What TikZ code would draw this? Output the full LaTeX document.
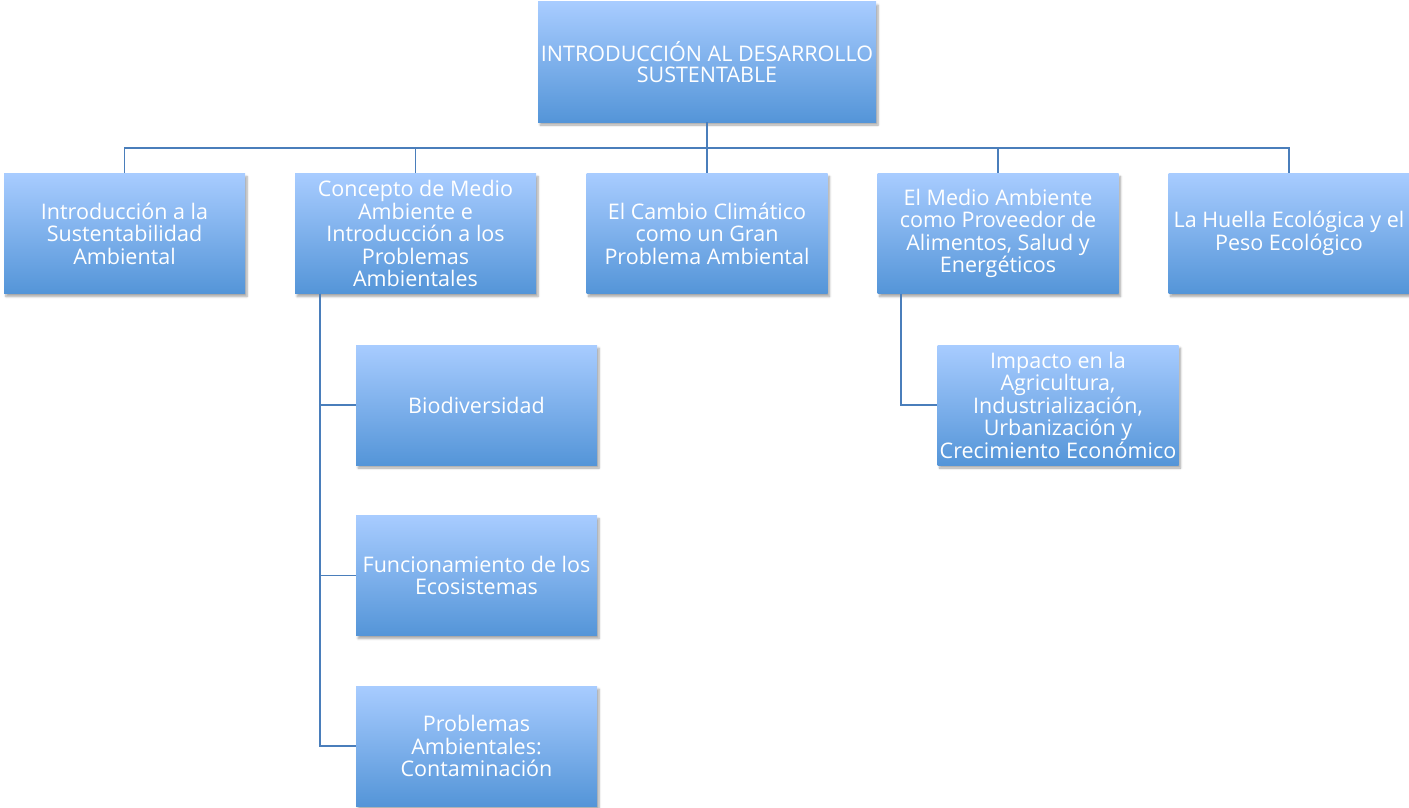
\documentclass[tikz,border=0pt]{standalone}
\usepackage{fontspec}
\setmainfont{Open Sans}
\usetikzlibrary{shadows.blur,calc}
\definecolor{topc}{RGB}{168,204,255}
\definecolor{botc}{RGB}{84,149,216}
\definecolor{linec}{RGB}{74,126,187}
\tikzset{
  box/.style={rectangle, minimum width=241pt, minimum height=120pt, inner sep=0pt,
    align=center, text=white, font=\fontsize{21.5}{22.5}\selectfont,
    top color=topc, bottom color=botc,
    blur shadow={shadow xshift=2pt, shadow yshift=-3pt, shadow blur steps=6, shadow opacity=35}},
  conn/.style={draw=linec, line width=1.8pt}
}
\begin{document}
\begin{tikzpicture}[x=1pt,y=-1pt]
\useasboundingbox (0,0) rectangle (1409,808);
\node[box, minimum width=338pt, font=\fontsize{21.5}{21}\selectfont] (top) at (707,62) {INTRODUCCIÓN AL DESARROLLO\\SUSTENTABLE};
\node[box] (b1) at (124.5,233.5) {Introducción a la\\Sustentabilidad\\Ambiental};
\node[box] (b2) at (415.5,233.5) {Concepto de Medio\\Ambiente e\\Introducción a los\\Problemas\\Ambientales};
\node[box] (b3) at (707,233.5) {El Cambio Climático\\como un Gran\\Problema Ambiental};
\node[box] (b4) at (998,233.5) {El Medio Ambiente\\como Proveedor de\\Alimentos, Salud y\\Energéticos};
\node[box] (b5) at (1289,233.5) {La Huella Ecológica y el\\Peso Ecológico};
\node[box] (c1) at (476.5,405) {Biodiversidad};
\node[box] (c2) at (476.5,575.5) {Funcionamiento de los\\Ecosistemas};
\node[box] (c3) at (476.5,746) {Problemas\\Ambientales:\\Contaminación};
\node[box] (d1) at (1058,405) {Impacto en la\\Agricultura,\\Industrialización,\\Urbanización y\\Crecimiento Económico};
\foreach \b in {b1,b2,b3,b4,b5}{
  \draw[conn] (top.south) -- ++(0,26) -| (\b.north);
}
\coordinate (v2) at ($(b2.south west)+(25,0)$);
\foreach \c in {c1,c2,c3}{
  \draw[conn] (v2) |- (\c.west);
}
\coordinate (v4) at ($(b4.south west)+(24,0)$);
\draw[conn] (v4) |- (d1.west);
\end{tikzpicture}
\end{document}
